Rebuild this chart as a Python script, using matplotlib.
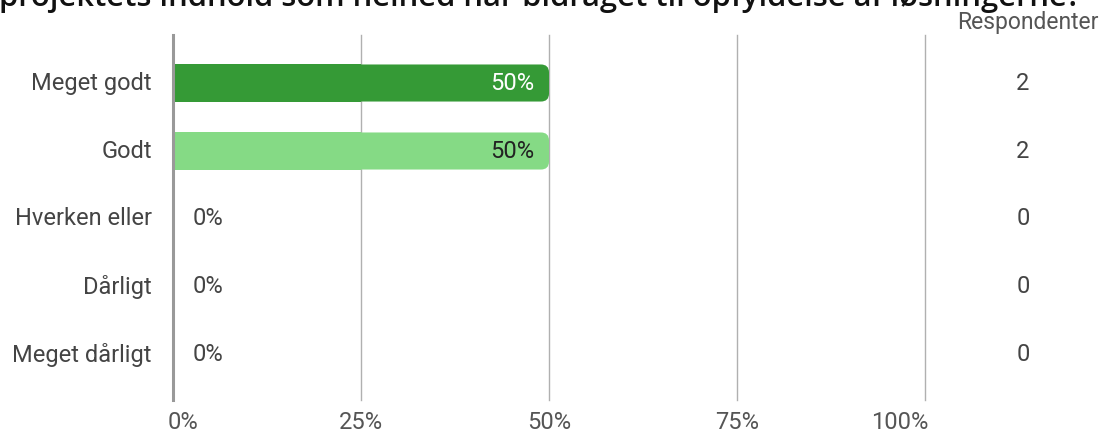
import matplotlib
matplotlib.use("Agg")
import matplotlib.pyplot as plt
from matplotlib.patches import FancyBboxPatch, Rectangle

plt.rcParams["font.family"] = ["Roboto", "DejaVu Sans"]

title = "projektets indhold som helhed har bidraget til opfyldelse af løsningerne?"
categories = ["Meget godt", "Godt", "Hverken eller", "Dårligt", "Meget dårligt"]
shares = [0.50, 0.50, 0.0, 0.0, 0.0]
respondents = [2, 2, 0, 0, 0]
ticks = [0, 0.25, 0.5, 0.75, 1.0]
tick_labels = ["0%", "25%", "50%", "75%", "100%"]

bar_colors = ["#359a36", "#85da85", "#85da85", "#85da85", "#85da85"]
label_colors = ["white", "#222222", "#444444", "#444444", "#444444"]

W, H = 1104, 436
fig = plt.figure(figsize=(W / 100, H / 100), dpi=100)
ax = fig.add_axes([173 / W, 1 - 400 / H, 752 / W, 365 / H])

ax.set_xlim(0, 1)
ax.set_ylim(4.662, -0.706)
for s in ax.spines.values():
    s.set_visible(False)
ax.set_xticks([])
ax.set_yticks([])

for t in ticks[1:]:
    ax.axvline(t, color="#b0b0b0", lw=1.0, zorder=0, clip_on=False)
ax.axvline(0, color="#999999", lw=2.2, zorder=3, clip_on=False)

bar_h = 0.545
px_x = 752
px_y = 68
r = 8 / px_x
for i, (v, c) in enumerate(zip(shares, bar_colors)):
    if v <= 0:
        continue
    y0 = i - bar_h / 2
    box = FancyBboxPatch((0, y0), v, bar_h,
                         boxstyle=f"round,pad=0,rounding_size={r}",
                         mutation_aspect=px_x / px_y,
                         fc=c, ec="none", zorder=2)
    ax.add_patch(box)
    ax.add_patch(Rectangle((0, y0), v / 2, bar_h, fc=c, ec="none", zorder=2))

fs = 17
for i, v in enumerate(shares):
    txt = f"{v * 100:.0f}%"
    if v > 0:
        ax.text(v - 15 / px_x, i, txt, ha="right", va="center",
                fontsize=fs, color=label_colors[i], zorder=4)
    else:
        ax.text(20 / px_x, i, txt, ha="left", va="center",
                fontsize=fs, color=label_colors[i], zorder=4)

for i, cat in enumerate(categories):
    ax.text(-21 / px_x, i, cat, ha="right", va="center",
            fontsize=fs, color="#444444")

# first label starts just left of its tick, last one ends at its tick
for t, lab in zip(ticks, tick_labels):
    x = (173 + t * 752) / W
    if t == ticks[0]:
        fig.text(x - 5 / W, 1 - 422 / H, lab, ha="left", va="center",
                 fontsize=fs, color="#555555")
    elif t == ticks[-1]:
        fig.text(x + 3 / W, 1 - 422 / H, lab, ha="right", va="center",
                 fontsize=fs, color="#555555")
    else:
        fig.text(x, 1 - 422 / H, lab, ha="center", va="center",
                 fontsize=fs, color="#555555")

for i, n in enumerate(respondents):
    ax.text(1 + 98 / px_x, i, str(n), ha="center", va="center",
            fontsize=fs, color="#444444", clip_on=False)

fig.text(1099 / W, 1 - 23 / H, "Respondenter", ha="right", va="center",
         fontsize=16.5, color="#555555")

fig.text(-1 / W, 1 - 6 / H, title, ha="left", va="baseline",
         fontsize=22.3, color="#111111", family=["Open Sans", "DejaVu Sans"],
         fontweight="semibold")

fig.savefig("out.png", dpi=100)
